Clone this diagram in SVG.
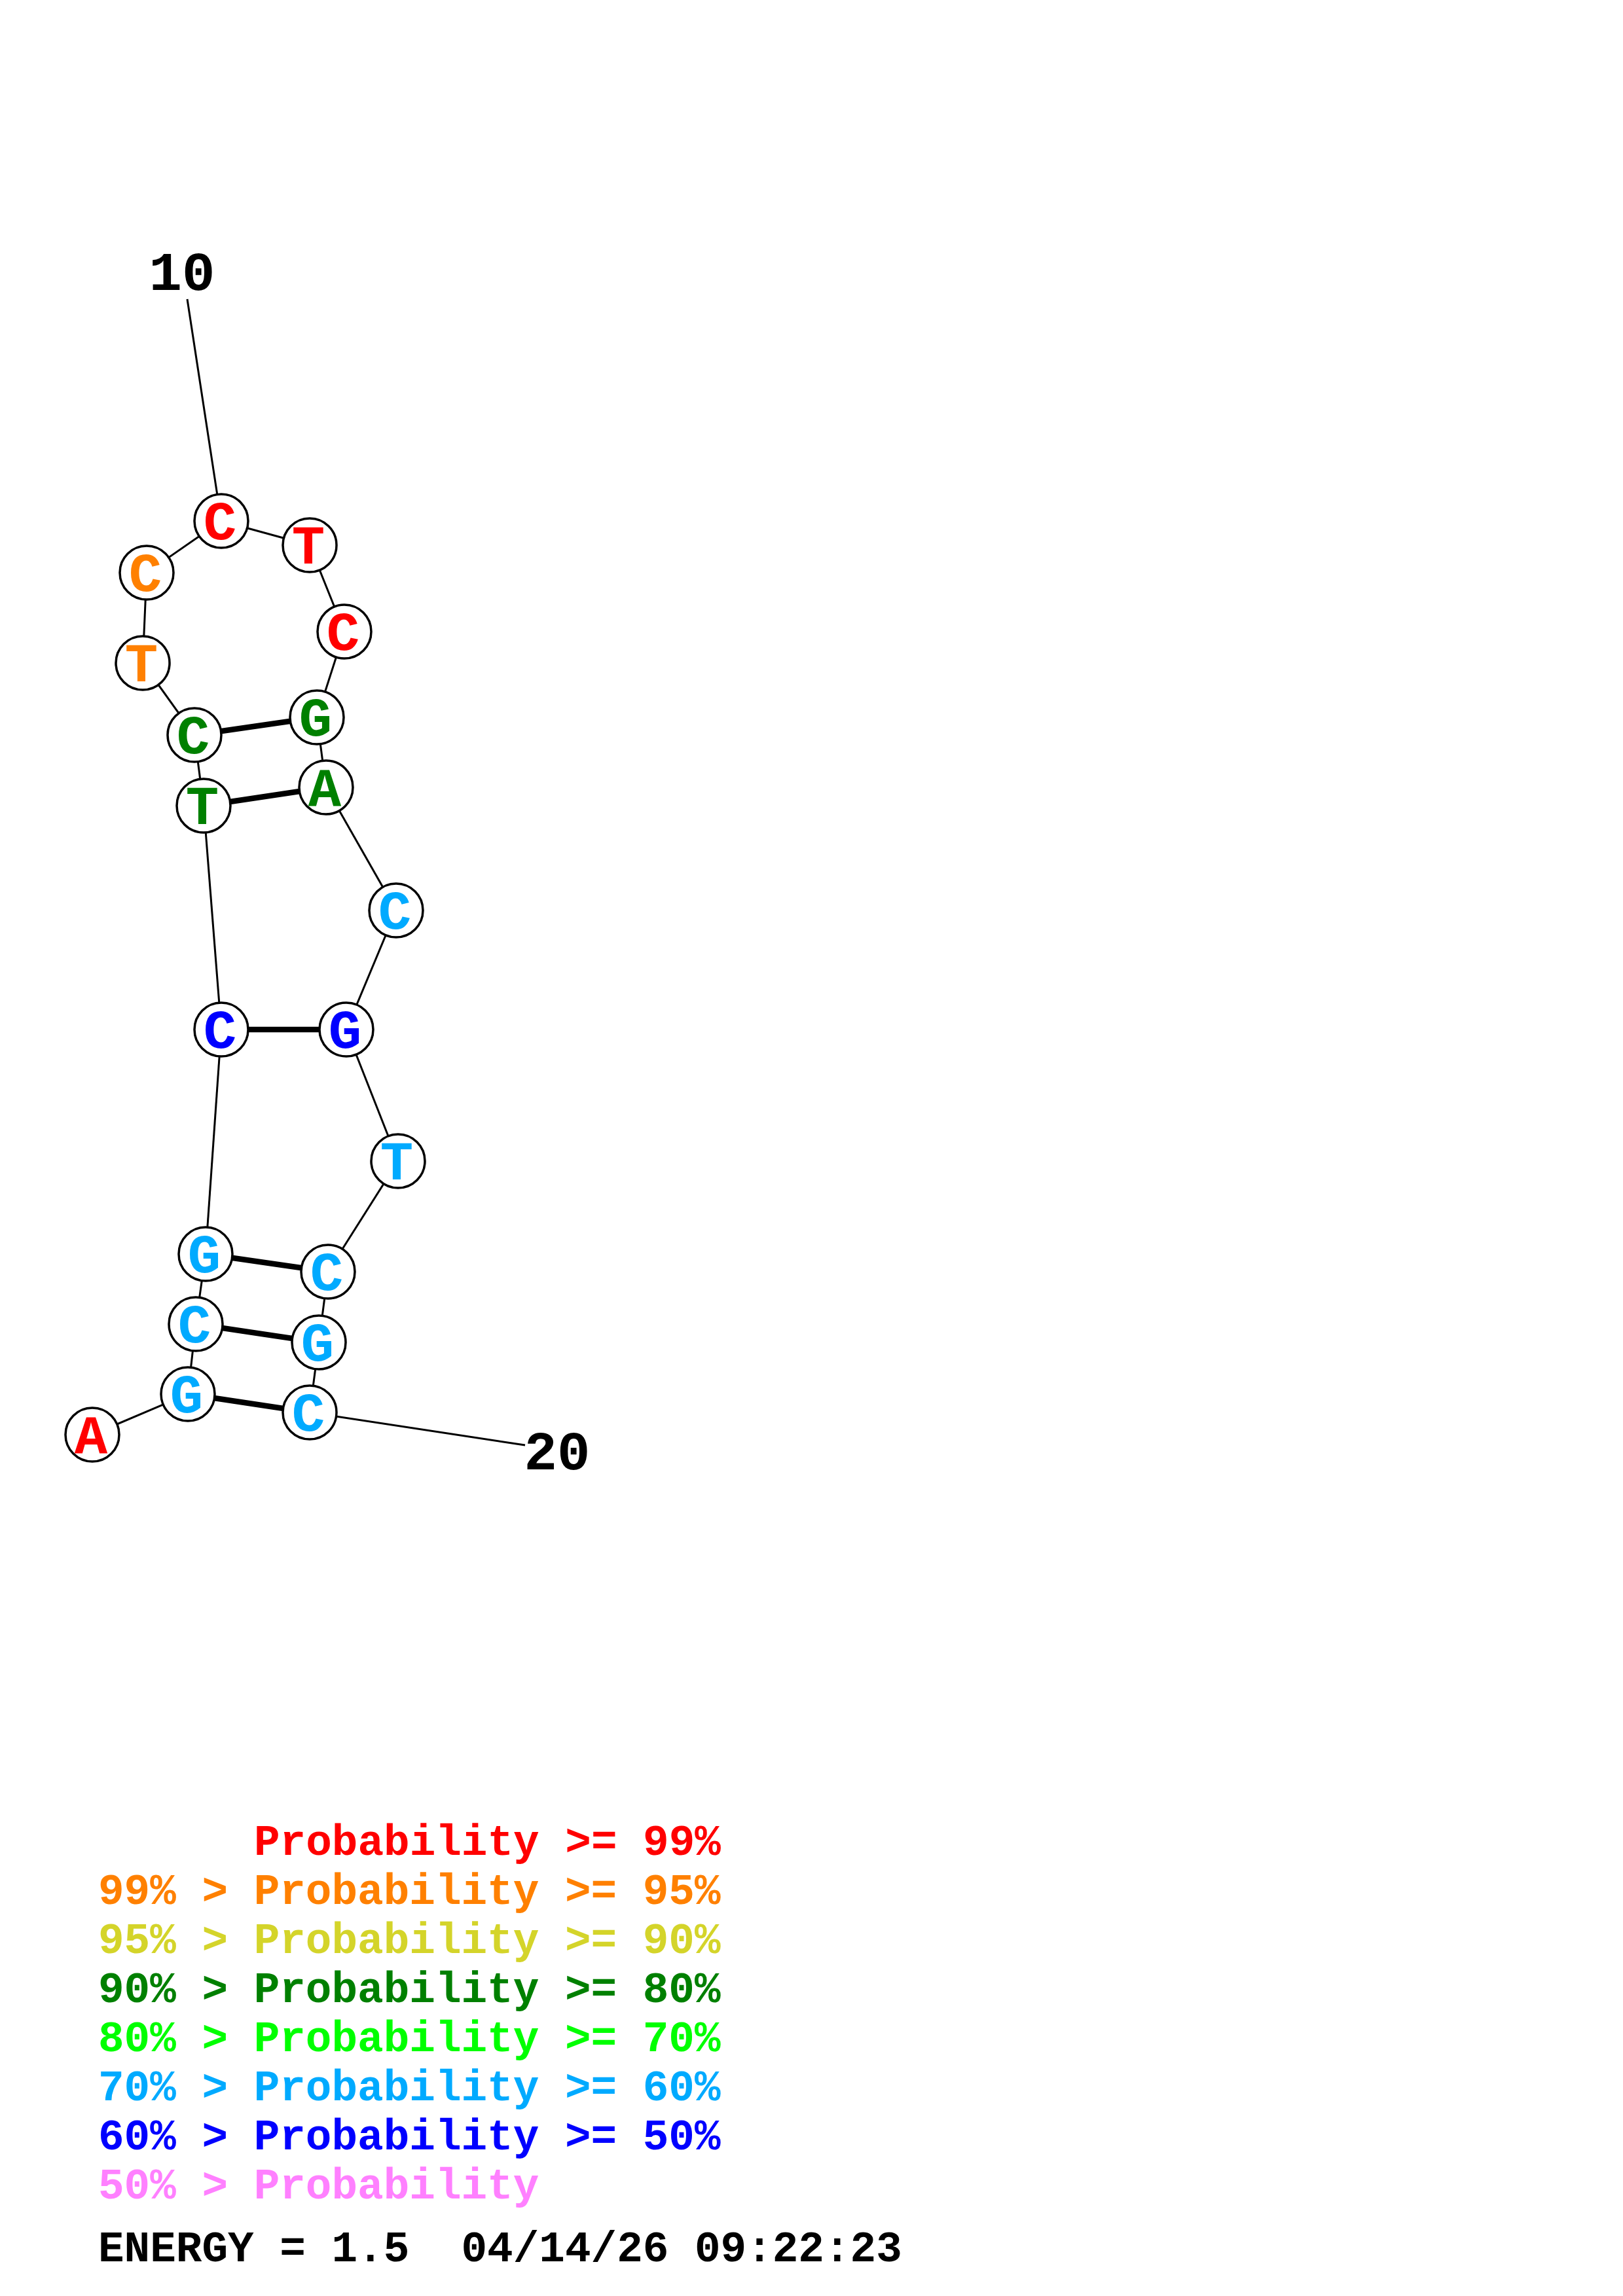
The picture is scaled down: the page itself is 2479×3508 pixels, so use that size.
<svg xmlns="http://www.w3.org/2000/svg" width="2479" height="3508" viewBox="0 0 2479 3508">
<style>
.bb{stroke:#000;stroke-width:3;fill:none}
.pr{stroke:#000;stroke-width:8.5;fill:none}
.nd{fill:#fff;stroke:#000;stroke-width:3.5}
.nt{font-family:"Liberation Mono","Courier New",monospace;font-weight:bold;font-size:84px;text-anchor:middle}
.lb{font-family:"Liberation Mono","Courier New",monospace;font-weight:bold;font-size:84px;text-anchor:middle;fill:#000}
.lg{font-family:"Liberation Mono","Courier New",monospace;font-weight:bold;font-size:66px;white-space:pre}
.r{fill:#FF0000}.o{fill:#FF8000}.y{fill:#D4D42A}.g{fill:#008000}.l{fill:#00FF00}.c{fill:#00AAFF}.b{fill:#0000FF}.p{fill:#FF80FF}.k{fill:#000}
</style>
<rect width="2479" height="3508" fill="#fff"/>
<g id="connectors">
<line class="bb" x1="286" y1="457" x2="338" y2="796"/>
<line class="bb" x1="473" y1="2158" x2="802" y2="2208"/>
<line class="bb" x1="141" y1="2192" x2="287" y2="2130"/>
<line class="bb" x1="287" y1="2130" x2="299" y2="2023"/>
<line class="bb" x1="299" y1="2023" x2="314" y2="1916"/>
<line class="bb" x1="314" y1="1916" x2="338" y2="1573"/>
<line class="bb" x1="338" y1="1573" x2="311" y2="1231"/>
<line class="bb" x1="311" y1="1231" x2="297" y2="1123"/>
<line class="bb" x1="297" y1="1123" x2="218" y2="1013"/>
<line class="bb" x1="218" y1="1013" x2="224" y2="875"/>
<line class="bb" x1="224" y1="875" x2="338" y2="796"/>
<line class="bb" x1="338" y1="796" x2="473" y2="833"/>
<line class="bb" x1="473" y1="833" x2="526" y2="965"/>
<line class="bb" x1="526" y1="965" x2="484" y2="1096"/>
<line class="bb" x1="484" y1="1096" x2="498" y2="1203"/>
<line class="bb" x1="498" y1="1203" x2="605" y2="1391"/>
<line class="bb" x1="605" y1="1391" x2="529" y2="1573"/>
<line class="bb" x1="529" y1="1573" x2="608" y2="1774"/>
<line class="bb" x1="608" y1="1774" x2="501" y2="1943"/>
<line class="bb" x1="501" y1="1943" x2="487" y2="2051"/>
<line class="bb" x1="487" y1="2051" x2="473" y2="2158"/>
<line class="pr" x1="287" y1="2130" x2="473" y2="2158"/>
<line class="pr" x1="299" y1="2023" x2="487" y2="2051"/>
<line class="pr" x1="314" y1="1916" x2="501" y2="1943"/>
<line class="pr" x1="338" y1="1573" x2="529" y2="1573"/>
<line class="pr" x1="311" y1="1231" x2="498" y2="1203"/>
<line class="pr" x1="297" y1="1123" x2="484" y2="1096"/>
</g>
<g id="labels">
<text class="lb" x="278" y="443">10</text>
<text class="lb" x="851" y="2245">20</text>
</g>
<g id="n1"><circle class="nd" cx="141" cy="2192" r="41"/><text class="nt r" x="139" y="2220">A</text></g>
<g id="n2"><circle class="nd" cx="287" cy="2130" r="41"/><text class="nt c" x="285" y="2158">G</text></g>
<g id="n3"><circle class="nd" cx="299" cy="2023" r="41"/><text class="nt c" x="297" y="2051">C</text></g>
<g id="n4"><circle class="nd" cx="314" cy="1916" r="41"/><text class="nt c" x="312" y="1944">G</text></g>
<g id="n5"><circle class="nd" cx="338" cy="1573" r="41"/><text class="nt b" x="336" y="1601">C</text></g>
<g id="n6"><circle class="nd" cx="311" cy="1231" r="41"/><text class="nt g" x="309" y="1259">T</text></g>
<g id="n7"><circle class="nd" cx="297" cy="1123" r="41"/><text class="nt g" x="295" y="1151">C</text></g>
<g id="n8"><circle class="nd" cx="218" cy="1013" r="41"/><text class="nt o" x="216" y="1041">T</text></g>
<g id="n9"><circle class="nd" cx="224" cy="875" r="41"/><text class="nt o" x="222" y="903">C</text></g>
<g id="n10"><circle class="nd" cx="338" cy="796" r="41"/><text class="nt r" x="336" y="824">C</text></g>
<g id="n11"><circle class="nd" cx="473" cy="833" r="41"/><text class="nt r" x="471" y="861">T</text></g>
<g id="n12"><circle class="nd" cx="526" cy="965" r="41"/><text class="nt r" x="524" y="993">C</text></g>
<g id="n13"><circle class="nd" cx="484" cy="1096" r="41"/><text class="nt g" x="482" y="1124">G</text></g>
<g id="n14"><circle class="nd" cx="498" cy="1203" r="41"/><text class="nt g" x="496" y="1231">A</text></g>
<g id="n15"><circle class="nd" cx="605" cy="1391" r="41"/><text class="nt c" x="603" y="1419">C</text></g>
<g id="n16"><circle class="nd" cx="529" cy="1573" r="41"/><text class="nt b" x="527" y="1601">G</text></g>
<g id="n17"><circle class="nd" cx="608" cy="1774" r="41"/><text class="nt c" x="606" y="1802">T</text></g>
<g id="n18"><circle class="nd" cx="501" cy="1943" r="41"/><text class="nt c" x="499" y="1971">C</text></g>
<g id="n19"><circle class="nd" cx="487" cy="2051" r="41"/><text class="nt c" x="485" y="2079">G</text></g>
<g id="n20"><circle class="nd" cx="473" cy="2158" r="41"/><text class="nt c" x="471" y="2186">C</text></g>
<g id="legend">
<text class="lg r" x="388" y="2834">Probability &gt;= 99%</text>
<text class="lg o" x="150" y="2909">99% &gt; Probability &gt;= 95%</text>
<text class="lg y" x="150" y="2984">95% &gt; Probability &gt;= 90%</text>
<text class="lg g" x="150" y="3059">90% &gt; Probability &gt;= 80%</text>
<text class="lg l" x="150" y="3134">80% &gt; Probability &gt;= 70%</text>
<text class="lg c" x="150" y="3209">70% &gt; Probability &gt;= 60%</text>
<text class="lg b" x="150" y="3284">60% &gt; Probability &gt;= 50%</text>
<text class="lg p" x="150" y="3359">50% &gt; Probability</text>
<text class="lg k" x="150" y="3455" xml:space="preserve">ENERGY = 1.5  04/14/26 09:22:23</text>
</g>
</svg>
